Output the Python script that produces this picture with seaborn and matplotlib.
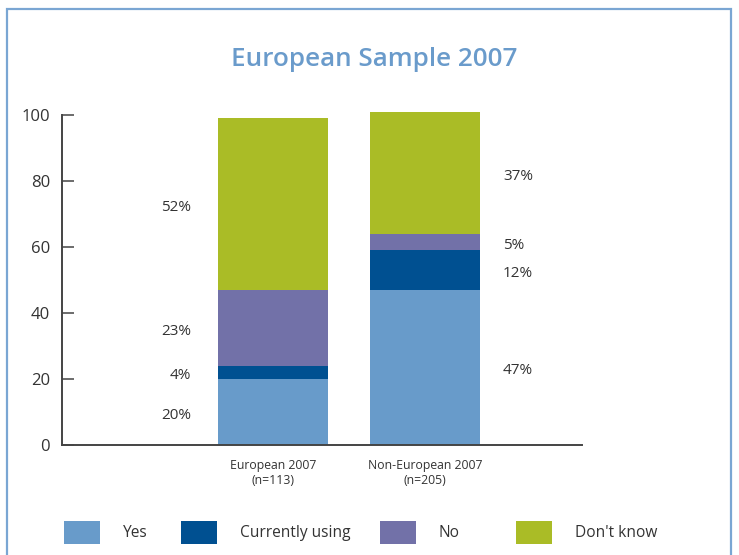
import numpy as np
import pandas as pd
import matplotlib
matplotlib.use("Agg")
import matplotlib.pyplot as plt
from matplotlib.patches import Rectangle, Patch
import seaborn as sns

# Survey answers per sample (percent of respondents)
groups = ["European 2007\n(n=113)", "Non-European 2007\n(n=205)"]
answers = ["Yes", "Currently using", "No", "Don't know"]
yes = [20, 47]
currently_using = [4, 12]
no = [23, 5]
dont_know = [52, 37]
y_ticks = [0, 20, 40, 60, 80, 100]
title = "European Sample 2007"

colors = ["#689bca", "#005091", "#7271a8", "#aabc26"]
text_color = "#333333"

sns.set_style("white")
plt.rcParams["font.family"] = ["Open Sans", "DejaVu Sans"]

W, H = 739, 555
fig = plt.figure(figsize=(W / 100, H / 100), dpi=100)

# axes placed in pixel terms
ax_left, ax_right, ax_bottom, ax_top100 = 62, 582, 445, 115
ymax = 102
px_per_unit = (ax_bottom - ax_top100) / 100
ax_h = px_per_unit * ymax
ax = fig.add_axes([ax_left / W, (H - ax_bottom) / H, (ax_right - ax_left) / W, ax_h / H])

series = [yes, currently_using, no, dont_know]
cum = np.cumsum(np.array(series), axis=0)

# draw stacked bars from the top layer down so each lower layer overlays it
for i in range(len(series) - 1, -1, -1):
    df = pd.DataFrame({"group": groups, "value": cum[i]})
    sns.barplot(data=df, x="group", y="value", color=colors[i], saturation=1,
                width=0.724, linewidth=0, ax=ax)

# percentage labels beside each segment
for j in range(len(groups)):
    for i in range(len(series)):
        lo = cum[i - 1][j] if i > 0 else 0
        mid = lo + series[i][j] / 2 - 1
        if j == 0:
            ax.text(j - 0.54, mid, f"{series[i][j]}%", ha="right", va="center",
                    fontsize=11, color=text_color)
        else:
            ax.text(j + 0.513, mid, f"{series[i][j]}%", ha="left", va="center",
                    fontsize=11, color=text_color)

ax.set_xlim(-1.388, 2.033)
ax.set_ylim(0, ymax)
ax.set_yticks(y_ticks)
ax.set_yticklabels([str(t) for t in y_ticks], fontsize=12, color=text_color)
ax.set_xlabel("")
ax.set_ylabel("")
for lab in ax.get_xticklabels():
    lab.set_fontsize(8.8)
    lab.set_color(text_color)
    lab.set_linespacing(1.2)

for s in ["top", "right"]:
    ax.spines[s].set_visible(False)
for s in ["left", "bottom"]:
    ax.spines[s].set_color("#444444")
    ax.spines[s].set_linewidth(1.4)
ax.spines["left"].set_bounds(0, 100)
ax.tick_params(axis="y", direction="in", length=8.6, width=1.1, color="#444444", pad=8.6, left=True)
ax.tick_params(axis="x", length=0, pad=10)

fig.text(374.5 / W, 1 - 60 / H, title, ha="center", va="center",
         fontsize=18.7, fontweight="semibold", color="#6a9bcb")

# legend entries at their own positions along the bottom
leg_x = [64, 181, 380, 516]
fs = 11.2
em = fs / 0.72
for k, name in enumerate(answers):
    leg = fig.legend(handles=[Patch(facecolor=colors[k], edgecolor="none")], labels=[name],
                     loc="center left", bbox_to_anchor=(leg_x[k] / W, 1 - 532.5 / H),
                     frameon=False, fontsize=fs, borderpad=0, borderaxespad=0,
                     handlelength=36 / em, handleheight=29 / em, handletextpad=23 / em,
                     labelcolor=text_color)

# outer frame
fig.add_artist(Rectangle((7 / W, -0.05), (731 - 7) / W, 1.05 - 9 / H, transform=fig.transFigure,
                         fill=False, edgecolor="#7aa6d3", linewidth=1.6))

fig.savefig("out.png", dpi=100)
